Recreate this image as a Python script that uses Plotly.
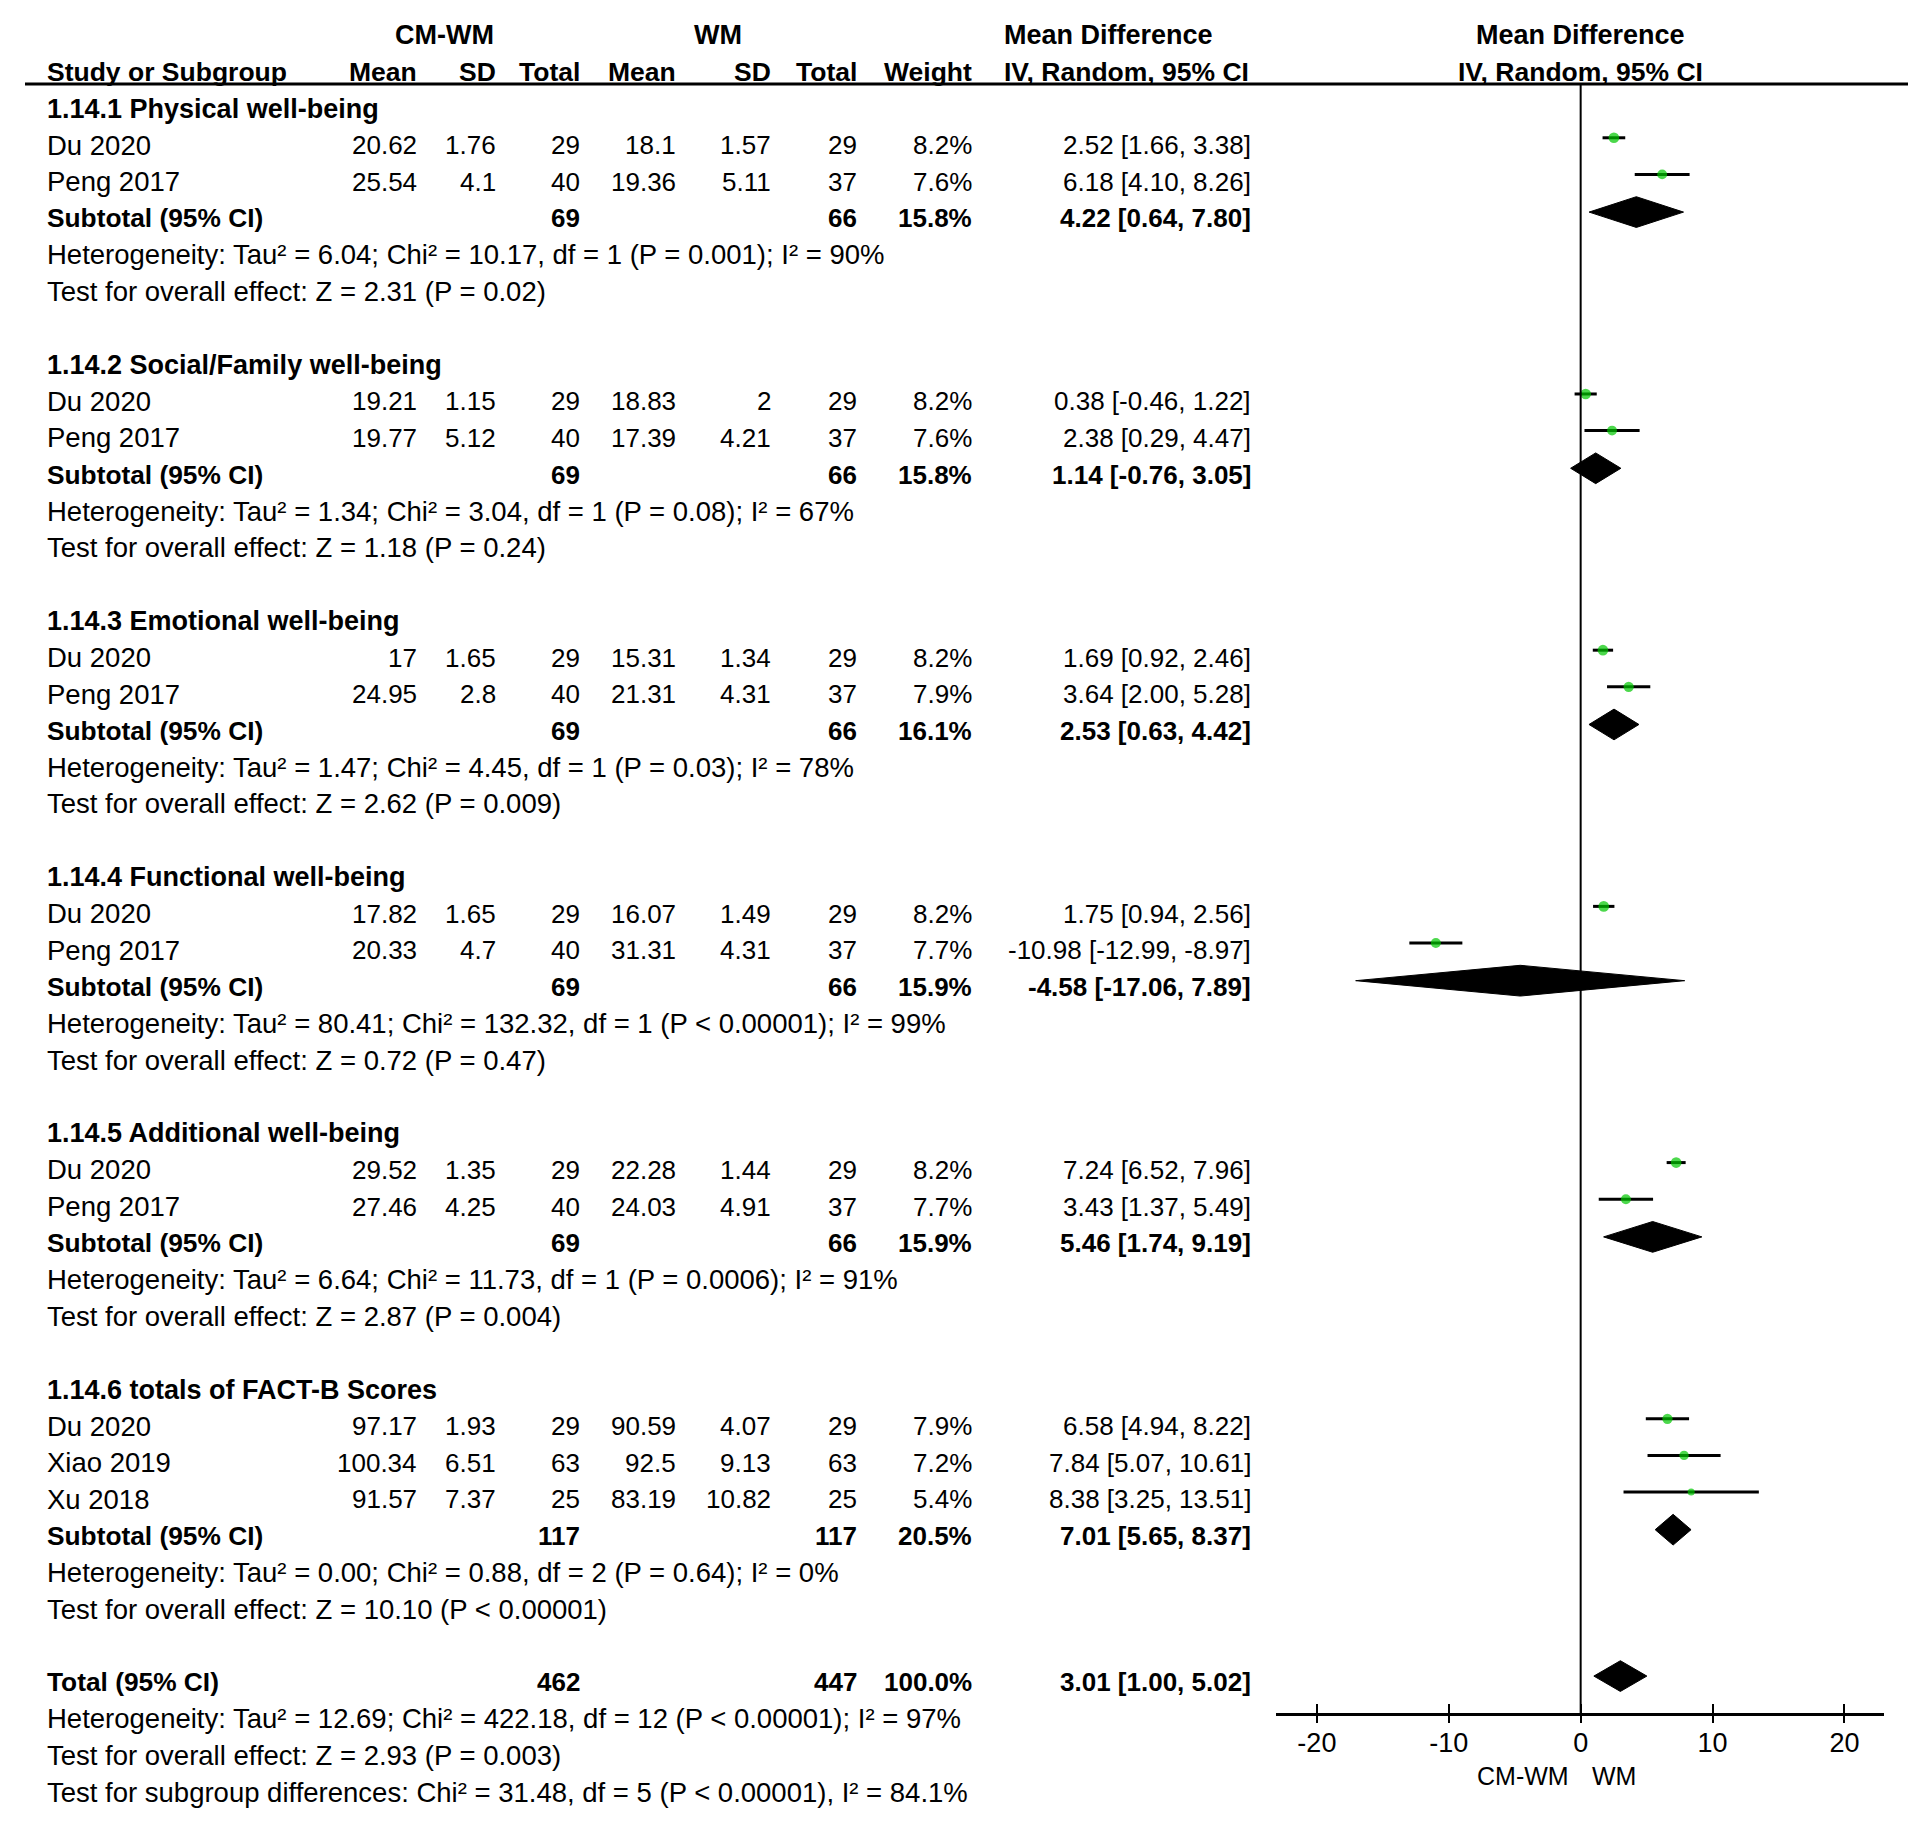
import plotly.graph_objects as go

# ---------------- data ----------------
group_titles = ["1.14.1 Physical well-being", "1.14.2 Social/Family well-being",
                "1.14.3 Emotional well-being", "1.14.4 Functional well-being",
                "1.14.5 Additional well-being", "1.14.6 totals of FACT-B Scores"]
study_group = [0, 0, 1, 1, 2, 2, 3, 3, 4, 4, 5, 5, 5]
study_names = ["Du 2020", "Peng 2017", "Du 2020", "Peng 2017", "Du 2020", "Peng 2017",
               "Du 2020", "Peng 2017", "Du 2020", "Peng 2017", "Du 2020", "Xiao 2019", "Xu 2018"]
cm_mean = [20.62, 25.54, 19.21, 19.77, 17, 24.95, 17.82, 20.33, 29.52, 27.46, 97.17, 100.34, 91.57]
cm_sd = [1.76, 4.1, 1.15, 5.12, 1.65, 2.8, 1.65, 4.7, 1.35, 4.25, 1.93, 6.51, 7.37]
cm_n = [29, 40, 29, 40, 29, 40, 29, 40, 29, 40, 29, 63, 25]
wm_mean = [18.1, 19.36, 18.83, 17.39, 15.31, 21.31, 16.07, 31.31, 22.28, 24.03, 90.59, 92.5, 83.19]
wm_sd = [1.57, 5.11, 2, 4.21, 1.34, 4.31, 1.49, 4.31, 1.44, 4.91, 4.07, 9.13, 10.82]
wm_n = [29, 37, 29, 37, 29, 37, 29, 37, 29, 37, 29, 63, 25]
weight = [8.2, 7.6, 8.2, 7.6, 8.2, 7.9, 8.2, 7.7, 8.2, 7.7, 7.9, 7.2, 5.4]
md = [2.52, 6.18, 0.38, 2.38, 1.69, 3.64, 1.75, -10.98, 7.24, 3.43, 6.58, 7.84, 8.38]
md_lo = [1.66, 4.10, -0.46, 0.29, 0.92, 2.00, 0.94, -12.99, 6.52, 1.37, 4.94, 5.07, 3.25]
md_hi = [3.38, 8.26, 1.22, 4.47, 2.46, 5.28, 2.56, -8.97, 7.96, 5.49, 8.22, 10.61, 13.51]

sub_n1 = [69, 69, 69, 69, 69, 117]
sub_n2 = [66, 66, 66, 66, 66, 117]
sub_w = [15.8, 15.8, 16.1, 15.9, 15.9, 20.5]
sub_md = [4.22, 1.14, 2.53, -4.58, 5.46, 7.01]
sub_lo = [0.64, -0.76, 0.63, -17.06, 1.74, 5.65]
sub_hi = [7.80, 3.05, 4.42, 7.89, 9.19, 8.37]
sub_het = ["Heterogeneity: Tau² = 6.04; Chi² = 10.17, df = 1 (P = 0.001); I² = 90%",
           "Heterogeneity: Tau² = 1.34; Chi² = 3.04, df = 1 (P = 0.08); I² = 67%",
           "Heterogeneity: Tau² = 1.47; Chi² = 4.45, df = 1 (P = 0.03); I² = 78%",
           "Heterogeneity: Tau² = 80.41; Chi² = 132.32, df = 1 (P < 0.00001); I² = 99%",
           "Heterogeneity: Tau² = 6.64; Chi² = 11.73, df = 1 (P = 0.0006); I² = 91%",
           "Heterogeneity: Tau² = 0.00; Chi² = 0.88, df = 2 (P = 0.64); I² = 0%"]
sub_test = ["Test for overall effect: Z = 2.31 (P = 0.02)",
            "Test for overall effect: Z = 1.18 (P = 0.24)",
            "Test for overall effect: Z = 2.62 (P = 0.009)",
            "Test for overall effect: Z = 0.72 (P = 0.47)",
            "Test for overall effect: Z = 2.87 (P = 0.004)",
            "Test for overall effect: Z = 10.10 (P < 0.00001)"]

total_n1, total_n2, total_w = 462, 447, 100.0
total_md, total_lo, total_hi = 3.01, 1.00, 5.02
total_lines = ["Heterogeneity: Tau² = 12.69; Chi² = 422.18, df = 12 (P < 0.00001); I² = 97%",
               "Test for overall effect: Z = 2.93 (P = 0.003)",
               "Test for subgroup differences: Chi² = 31.48, df = 5 (P < 0.00001), I² = 84.1%"]

x_ticks = [-20, -10, 0, 10, 20]
favours_left, favours_right = "CM-WM", "WM"

# ---------------- layout geometry ----------------
W, H = 1932, 1828
ROW0, ROWH = 108.5, 36.6          # pixel of row 0, pixel height of a row
y_top = -ROW0 / ROWH
y_bot = (H - ROW0) / ROWH
FONT = "Liberation Sans, Arial, sans-serif"
FS_NUM = 26      # numeric columns
FS_TXT = 27.5    # plain text in left column
FS_BOLD = 27     # bold titles / headers
MARK_OFF = -0.2
DIA_OFF = -0.17
DIA_H = 0.42

def px(x):
    return x / W

col_left = px(44.5)
col_m1, col_sd1, col_n1 = px(419), px(498), px(582)
col_m2, col_sd2, col_n2 = px(678), px(773), px(858.5)
col_w, col_ci = px(973.5), px(1253)
col_mdhead = px(1002)

annotations = []

def txt(x, y, s, anchor="left", bold=False, size=FS_NUM, xref="paper"):
    annotations.append(dict(x=x, y=y, xref=xref, yref="y", text=(f"<b>{s}</b>" if bold else s),
                            showarrow=False, xanchor=anchor, yanchor="middle",
                            font=dict(family=FONT, size=size, color="#000")))

def fmt_ci(m, lo, hi):
    return f"{m:.2f} [{lo:.2f}, {hi:.2f}]"

# header
H1, H2 = -2.02, -1.01
txt(px(444.5), H1, "CM-WM", "center", True, FS_BOLD)
txt(px(718), H1, "WM", "center", True, FS_BOLD)
txt(col_mdhead, H1, "Mean Difference", "left", True, FS_BOLD)
txt(0, H1, "Mean Difference", "center", True, FS_BOLD, xref="x")
txt(col_left, H2, "Study or Subgroup", "left", True, 26.5)
for x, s in [(col_m1, "Mean"), (col_sd1, "SD"), (col_n1, "Total"), (col_m2, "Mean"),
             (col_sd2, "SD"), (col_n2, "Total"), (col_w, "Weight")]:
    txt(x, H2, s, "right", True, 26.5)
txt(col_mdhead, H2, "IV, Random, 95% CI", "left", True, 26.5)
txt(0, H2, "IV, Random, 95% CI", "center", True, 26.5, xref="x")

study_rows, sub_rows = [], []
row = 0
for g, title in enumerate(group_titles):
    txt(col_left, row, title, "left", True, FS_BOLD)
    row += 1
    for i in [k for k, gg in enumerate(study_group) if gg == g]:
        study_rows.append(row)
        txt(col_left, row, study_names[i], size=FS_TXT)
        txt(col_m1, row, str(cm_mean[i]), "right")
        txt(col_sd1, row, str(cm_sd[i]), "right")
        txt(col_n1, row, str(cm_n[i]), "right")
        txt(col_m2, row, str(wm_mean[i]), "right")
        txt(col_sd2, row, str(wm_sd[i]), "right")
        txt(col_n2, row, str(wm_n[i]), "right")
        txt(col_w, row, f"{weight[i]:.1f}%", "right")
        txt(col_ci, row, fmt_ci(md[i], md_lo[i], md_hi[i]), "right")
        row += 1
    sub_rows.append(row)
    txt(col_left, row, "Subtotal (95% CI)", "left", True, 26.3)
    txt(col_n1, row, str(sub_n1[g]), "right", True)
    txt(col_n2, row, str(sub_n2[g]), "right", True)
    txt(col_w, row, f"{sub_w[g]:.1f}%", "right", True)
    txt(col_ci, row, fmt_ci(sub_md[g], sub_lo[g], sub_hi[g]), "right", True)
    row += 1
    txt(col_left, row, sub_het[g], size=FS_TXT); row += 1
    txt(col_left, row, sub_test[g], size=FS_TXT); row += 1
    row += 1

total_row = row
txt(col_left, total_row, "Total (95% CI)", "left", True, 26.3)
txt(col_n1, total_row, str(total_n1), "right", True)
txt(col_n2, total_row, str(total_n2), "right", True)
txt(col_w, total_row, f"{total_w:.1f}%", "right", True)
txt(col_ci, total_row, fmt_ci(total_md, total_lo, total_hi), "right", True)
for k, s in enumerate(total_lines):
    txt(col_left, total_row + 1 + k, s, size=FS_TXT)

axis_row = total_row + 0.87
axis_pos = 1 - (ROW0 + ROWH * axis_row) / H
txt(-0.7, total_row + 2.55, favours_left, "right", False, 25, xref="x")
txt(0.7, total_row + 2.55, favours_right, "left", False, 25, xref="x")

fig = go.Figure()

# CI lines for studies
for i, r in enumerate(study_rows):
    fig.add_trace(go.Scatter(x=[md_lo[i], md_hi[i]], y=[r + MARK_OFF] * 2, mode="lines",
                             line=dict(color="#000", width=3), hoverinfo="skip", showlegend=False))
fig.add_trace(go.Scatter(x=md, y=[r + MARK_OFF for r in study_rows], mode="markers",
                         marker=dict(color="#00c800", size=[w * 1.3 for w in weight], symbol="circle",
                                     line=dict(width=0)),
                         showlegend=False))

# diamonds
def diamond(m, lo, hi, r):
    yc = r + DIA_OFF
    fig.add_trace(go.Scatter(x=[lo, m, hi, m, lo], y=[yc, yc - DIA_H, yc, yc + DIA_H, yc],
                             mode="lines", fill="toself", fillcolor="#000",
                             line=dict(color="#000", width=1), showlegend=False, hoverinfo="skip"))

for g, r in enumerate(sub_rows):
    diamond(sub_md[g], sub_lo[g], sub_hi[g], r)
diamond(total_md, total_lo, total_hi, total_row)

# dummy traces for overlay axes (tick marks above / below the axis line)
fig.add_trace(go.Scatter(x=[0], y=[y_top - 5], xaxis="x2", mode="markers",
                         marker=dict(opacity=0), showlegend=False, hoverinfo="skip"))
fig.add_trace(go.Scatter(x=[0], y=[y_top - 5], xaxis="x3", mode="markers",
                         marker=dict(opacity=0), showlegend=False, hoverinfo="skip"))

dom = [px(1276), px(1884)]
xr = [-23.1, 23.0]
header_line_row = -0.67

fig.update_layout(
    width=W, height=H, margin=dict(l=0, r=0, t=0, b=0),
    paper_bgcolor="white", plot_bgcolor="white",
    annotations=annotations,
    xaxis=dict(domain=dom, range=xr, anchor="free", position=axis_pos,
               showline=True, linecolor="#000", linewidth=3, showgrid=False, zeroline=False,
               ticks="outside", ticklen=3, tickwidth=2, tickcolor="#000",
               tickvals=x_ticks, ticktext=[str(t) for t in x_ticks],
               tickfont=dict(family=FONT, size=27, color="#000")),
    xaxis2=dict(domain=dom, range=xr, overlaying="x", anchor="free", position=axis_pos,
                showline=False, showgrid=False, zeroline=False, showticklabels=False,
                ticks="inside", ticklen=10, tickwidth=2, tickcolor="#000", tickvals=x_ticks),
    xaxis3=dict(domain=dom, range=xr, overlaying="x", anchor="free", position=axis_pos,
                showline=False, showgrid=False, zeroline=False, showticklabels=False,
                ticks="outside", ticklen=8, tickwidth=2, tickcolor="#000", tickvals=x_ticks),
    yaxis=dict(domain=[0, 1], range=[y_bot, y_top], visible=False, showgrid=False, zeroline=False),
    shapes=[
        dict(type="line", xref="paper", yref="y", x0=px(25), x1=px(1908),
             y0=header_line_row, y1=header_line_row, line=dict(color="#000", width=3)),
        dict(type="line", xref="x", yref="y", x0=0, x1=0, y0=header_line_row, y1=axis_row,
             line=dict(color="#000", width=2)),
    ],
)

fig.write_html("out.html", post_script="document.body.style.margin='0';",
               config={"displayModeBar": False})
